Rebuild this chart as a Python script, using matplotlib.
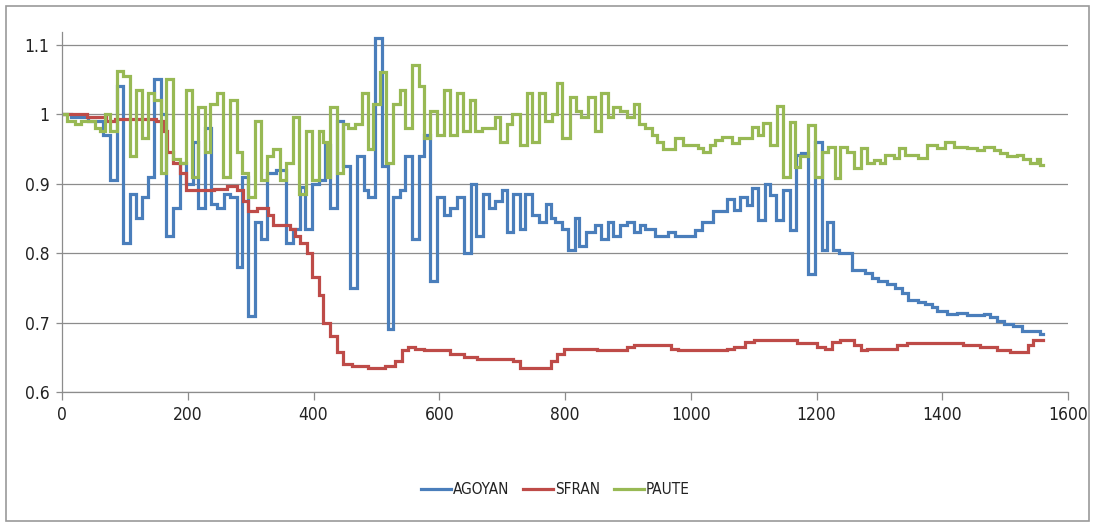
import matplotlib
matplotlib.use("Agg")
import matplotlib.pyplot as plt
from matplotlib.patches import Rectangle

plt.rcParams['font.family'] = ['DejaVu Sans']
plt.rcParams['font.stretch'] = 'condensed'

# Step series: x where each level begins, and the level value
AGOYAN_X = [0, 15, 42, 66, 77, 88, 97, 108, 118, 128, 137, 147, 158, 166, 177, 188, 197, 209, 217, 228,
            237, 247, 257, 267, 278, 286, 296, 307, 316, 326, 341, 357, 368, 378, 387, 397, 408, 418, 426, 437,
            447, 458, 469, 480, 487, 498, 509, 519, 527, 538, 545, 556, 567, 575, 585, 597, 607, 617, 628, 639,
            650, 659, 670, 679, 689, 700, 708, 718, 729, 737, 748, 758, 769, 777, 784, 795, 805, 816, 823, 834,
            848, 858, 869, 877, 888, 898, 909, 919, 927, 943, 964, 975, 1007, 1018, 1036, 1057, 1068, 1078, 1089, 1097,
            1107, 1118, 1126, 1136, 1147, 1158, 1168, 1176, 1187, 1198, 1208, 1216, 1227, 1235, 1256, 1277, 1288, 1298, 1312, 1325,
            1336, 1346, 1362, 1373, 1383, 1392, 1408, 1423, 1439, 1466, 1476, 1487, 1498, 1513, 1527, 1556]
AGOYAN_Y = [1.0, 0.995, 0.99, 0.97, 0.905, 1.04, 0.815, 0.885, 0.85, 0.88, 0.91, 1.05, 1.0, 0.825, 0.865, 0.93, 0.9, 0.96, 0.865, 0.98,
            0.87, 0.865, 0.885, 0.88, 0.78, 0.91, 0.71, 0.845, 0.82, 0.915, 0.92, 0.815, 0.835, 0.895, 0.835, 0.9, 0.905, 0.955, 0.865, 0.99,
            0.925, 0.75, 0.94, 0.89, 0.88, 1.11, 0.925, 0.69, 0.88, 0.89, 0.94, 0.82, 0.94, 0.97, 0.76, 0.88, 0.855, 0.865, 0.88, 0.80,
            0.90, 0.825, 0.885, 0.865, 0.875, 0.89, 0.83, 0.885, 0.835, 0.885, 0.855, 0.845, 0.87, 0.85, 0.845, 0.835, 0.805, 0.85, 0.81, 0.83,
            0.84, 0.82, 0.845, 0.825, 0.84, 0.845, 0.83, 0.84, 0.835, 0.825, 0.83, 0.825, 0.833, 0.845, 0.86, 0.877, 0.862, 0.881, 0.869, 0.894,
            0.848, 0.9, 0.884, 0.848, 0.891, 0.833, 0.941, 0.944, 0.77, 0.96, 0.805, 0.845, 0.805, 0.8, 0.776, 0.771, 0.764, 0.759, 0.755, 0.75,
            0.743, 0.733, 0.73, 0.726, 0.722, 0.716, 0.712, 0.713, 0.711, 0.712, 0.708, 0.702, 0.698, 0.695, 0.688, 0.684]

SFRAN_X = [0, 40, 70, 85, 150, 160, 167, 177, 188, 198, 241, 262, 278, 288, 296, 310, 328, 336, 363, 371,
           378, 389, 397, 408, 415, 426, 437, 447, 461, 487, 514, 530, 540, 551, 561, 575, 617, 639, 660, 718,
           729, 777, 788, 798, 851, 899, 910, 968, 979, 1057, 1068, 1086, 1100, 1169, 1200, 1214, 1225, 1238, 1259, 1270,
           1280, 1328, 1344, 1433, 1460, 1487, 1508, 1537, 1545]
SFRAN_Y = [1.0, 0.995, 0.99, 0.993, 0.99, 0.975, 0.945, 0.93, 0.915, 0.89, 0.892, 0.897, 0.89, 0.875, 0.86, 0.865, 0.855, 0.84, 0.835, 0.825,
           0.815, 0.8, 0.765, 0.74, 0.7, 0.68, 0.657, 0.64, 0.638, 0.635, 0.638, 0.645, 0.66, 0.665, 0.662, 0.66, 0.655, 0.65, 0.648, 0.645,
           0.635, 0.645, 0.655, 0.662, 0.66, 0.665, 0.668, 0.662, 0.66, 0.662, 0.665, 0.672, 0.675, 0.67, 0.665, 0.662, 0.672, 0.675, 0.668, 0.66,
           0.662, 0.668, 0.67, 0.668, 0.665, 0.66, 0.658, 0.668, 0.675]

PAUTE_X = [0, 8, 21, 31, 52, 60, 68, 76, 87, 97, 108, 118, 128, 137, 146, 157, 166, 177, 188, 197,
           206, 217, 227, 235, 246, 256, 267, 278, 286, 296, 307, 317, 326, 336, 347, 357, 368, 377, 388, 397,
           408, 415, 421, 426, 437, 447, 455, 466, 477, 487, 495, 506, 516, 527, 538, 545, 556, 567, 575, 585,
           596, 607, 617, 628, 638, 649, 657, 668, 689, 697, 707, 715, 728, 739, 747, 758, 768, 779, 787, 795,
           808, 818, 826, 837, 848, 858, 869, 877, 888, 898, 909, 917, 927, 938, 946, 956, 975, 988, 1012, 1020,
           1030, 1038, 1049, 1065, 1076, 1097, 1107, 1115, 1126, 1137, 1147, 1158, 1166, 1174, 1187, 1198, 1208, 1219, 1230, 1238,
           1248, 1259, 1270, 1280, 1291, 1301, 1309, 1323, 1331, 1341, 1362, 1375, 1392, 1405, 1418, 1439, 1455, 1466, 1482, 1492,
           1503, 1519, 1529, 1540, 1550, 1556]
PAUTE_Y = [1.0, 0.99, 0.985, 0.99, 0.98, 0.975, 1.0, 0.975, 1.062, 1.055, 0.94, 1.035, 0.965, 1.03, 1.02, 0.915, 1.05, 0.935, 0.93, 1.035,
           0.91, 1.01, 0.945, 1.015, 1.03, 0.91, 1.02, 0.945, 0.915, 0.88, 0.99, 0.905, 0.94, 0.95, 0.905, 0.93, 0.995, 0.885, 0.975, 0.905,
           0.975, 0.96, 0.91, 1.01, 0.915, 0.985, 0.98, 0.985, 1.03, 0.95, 1.015, 1.06, 0.93, 1.015, 1.035, 0.98, 1.07, 1.04, 0.965, 1.005,
           0.97, 1.035, 0.97, 1.03, 0.975, 1.02, 0.975, 0.98, 0.995, 0.96, 0.985, 1.0, 0.955, 1.03, 0.96, 1.03, 0.99, 1.0, 1.045, 0.965,
           1.025, 1.005, 0.995, 1.025, 0.975, 1.03, 0.995, 1.01, 1.005, 0.995, 1.015, 0.985, 0.98, 0.97, 0.96, 0.95, 0.965, 0.955, 0.951, 0.946,
           0.955, 0.963, 0.967, 0.958, 0.965, 0.982, 0.97, 0.987, 0.955, 1.011, 0.91, 0.989, 0.924, 0.94, 0.984, 0.91, 0.946, 0.953, 0.908, 0.953,
           0.946, 0.923, 0.951, 0.929, 0.934, 0.929, 0.941, 0.936, 0.951, 0.941, 0.936, 0.955, 0.951, 0.96, 0.952, 0.951, 0.948, 0.952, 0.948, 0.944,
           0.94, 0.941, 0.935, 0.929, 0.935, 0.927]

X_END = 1561
SERIES = [("AGOYAN", AGOYAN_X, AGOYAN_Y, "#4A7EBB"),
          ("SFRAN", SFRAN_X, SFRAN_Y, "#BE4B48"),
          ("PAUTE", PAUTE_X, PAUTE_Y, "#98B954")]

X_TICKS = [0, 200, 400, 600, 800, 1000, 1200, 1400, 1600]
Y_TICKS = [0.6, 0.7, 0.8, 0.9, 1.0, 1.1]
Y_TICK_LABELS = ["0.6", "0.7", "0.8", "0.9", "1", "1.1"]

W, H = 1096, 526
fig = plt.figure(figsize=(W / 100, H / 100), dpi=100)
fig.patch.set_facecolor("white")
ax = fig.add_axes([62 / W, 1 - 392 / H, (1068 - 62) / W, (392 - 32) / H])

for name, xs, ys, color in SERIES:
    ax.step(list(xs) + [X_END], list(ys) + [ys[-1]], where="post",
            color=color, lw=2.3, label=name, solid_joinstyle="miter")

grid_c = "#8c8c8c"
ax.set_xlim(0, 1600)
ax.set_ylim(0.6, 1.118)
ax.set_xticks(X_TICKS)
ax.set_xticklabels([str(t) for t in X_TICKS])
ax.set_yticks(Y_TICKS)
ax.set_yticklabels(Y_TICK_LABELS)
ax.yaxis.grid(True, color=grid_c, lw=0.9)
ax.set_axisbelow(True)
for s in ("top", "right"):
    ax.spines[s].set_visible(False)
for s in ("left", "bottom"):
    ax.spines[s].set_color(grid_c)
    ax.spines[s].set_linewidth(0.9)
ax.tick_params(axis="x", length=6, width=0.9, color=grid_c, labelsize=12.5, labelcolor="#222222", pad=4)
ax.tick_params(axis="y", length=4, width=0.9, color=grid_c, labelsize=12.5, labelcolor="#222222", pad=5)

handles, labels = ax.get_legend_handles_labels()
fig.legend(handles, labels, loc="center", bbox_to_anchor=(555 / W, 1 - 490 / H), ncol=3,
           frameon=False, fontsize=11, handlelength=2.0, handletextpad=0.1, columnspacing=0.9,
           labelcolor="#222222")

fig.patches.append(Rectangle((6 / W, 5 / H), (1089 - 6) / W, (520 - 5) / H, transform=fig.transFigure,
                             fill=False, edgecolor="#9a9a9a", lw=1.2))

fig.savefig("out.png", dpi=100)
